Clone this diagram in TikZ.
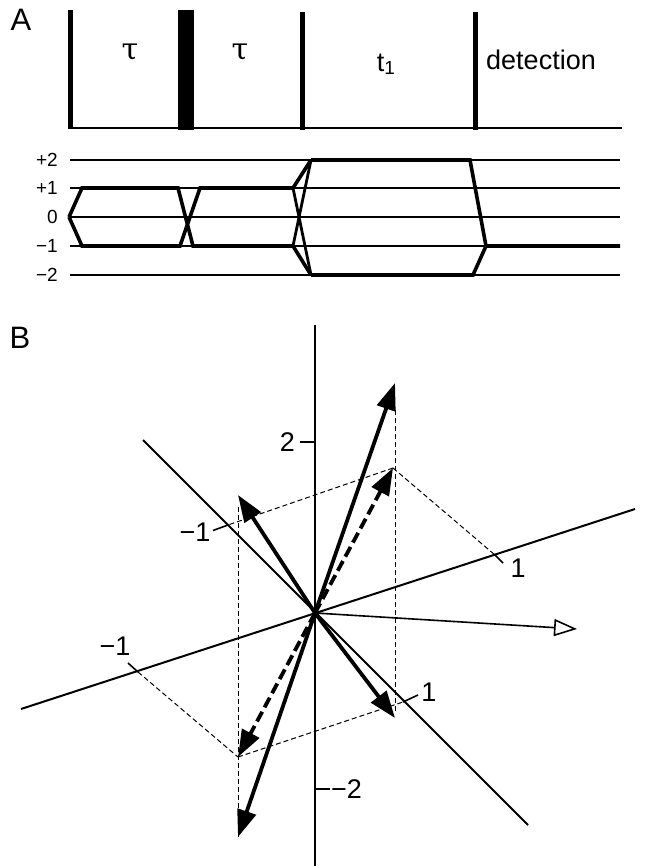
\documentclass[tikz,border=0pt]{standalone}
\usepackage{fontspec}
\setmainfont{Liberation Sans}
\newfontfamily\grk{DejaVu Serif}
\usetikzlibrary{arrows.meta}
\begin{document}
\begin{tikzpicture}[x=1pt,y=-1pt,
  pulse/.style={line width=5pt},
  baseline/.style={line width=2pt},
  level/.style={line width=1.8pt},
  cpath/.style={line width=3.6pt,line join=miter},
  cthin/.style={line width=2.8pt},
  axisline/.style={line width=2pt},
  vec/.style={line width=3.8pt,-{Triangle[length=27pt,width=19pt]}},
  dvec/.style={vec,dash pattern=on 11pt off 5pt},
  ovec/.style={line width=1.6pt,-{Triangle[open,length=23pt,width=17pt,line width=1.6pt]}},
  guide/.style={line width=1pt,dash pattern=on 5pt off 3pt},
  tickmark/.style={line width=1.6pt},
  panel/.style={font=\fontsize{31}{31}\selectfont,inner sep=0pt},
  lvl/.style={font=\fontsize{19}{19}\selectfont,inner sep=0pt,anchor=east},
  num/.style={font=\fontsize{27}{27}\selectfont,inner sep=0pt},
  tau/.style={font=\grk\fontsize{30}{30}\selectfont,inner sep=0pt},
  txt/.style={font=\fontsize{27}{27}\selectfont,inner sep=0pt}
]
\useasboundingbox (0,0) rectangle (645,866);

% ---------- Panel A ----------
\node[panel] (labA) at (21,20) {A};

\draw[baseline] (68,128) -- (622,128);
\draw[pulse] (70,10) -- (70,129);
\fill (178,10) rectangle (194,130);
\draw[pulse] (302,12) -- (302,130);
\draw[pulse] (475,12) -- (475,130);

\node[tau] (tau1) at (130,52) {τ};
\node[tau] (tau2) at (240,52) {τ};
\node[txt,anchor=base] (t1) at (386,72) {t\raisebox{-3pt}{\fontsize{19}{19}\selectfont 1}};
\node[txt] (det) at (541,60) {detection};

% coherence levels
\foreach \yy/\lab [count=\i] in {160/+2,188/+1,217/0,246/{−1},275/{−2}}{
  \draw[level] (70,\yy) -- (620,\yy);
  \node[lvl] (lev\i) at (58,\yy) {\lab};
}

% coherence pathways
\draw[cpath] (69,217) -- (82,188) -- (178,188) -- (193,246) -- (293,246);
\draw[cpath] (69,217) -- (82,246) -- (180,246) -- (200,188) -- (293,188);
\draw[cpath] (293,188) -- (311,160);
\draw[cpath] (293,246) -- (311,275);
\draw[cthin] (293,188) -- (311,275);
\draw[cthin] (293,246) -- (311,160);
\draw[cpath] (311,160) -- (470,160) -- (486,246) -- (620,246);
\draw[cpath] (311,275) -- (473,275) -- (486,246);

% ---------- Panel B ----------
\node[panel] (labB) at (20,338) {B};

\coordinate (O) at (315,613);
\coordinate (vtop) at (315,325);
\coordinate (vbot) at (315,866);
\coordinate (La) at (21,709);
\coordinate (Lb) at (635,509);
\coordinate (Ma) at (143,440);
\coordinate (Mb) at (528,825);

\draw[axisline] (vtop) -- (vbot);
\draw[axisline] (La) -- (Lb);
\draw[axisline] (Ma) -- (Mb);

% vertical ticks
\coordinate (t2a) at (300,442);
\coordinate (t2b) at (315,442);
\draw[tickmark] (t2a) -- (t2b);
\node[num,anchor=east] (n2) at (295,442) {2};
\coordinate (tm2a) at (315,789);
\coordinate (tm2b) at (330,789);
\draw[tickmark] (tm2a) -- (tm2b);
\node[num,anchor=west] (nm2) at (331,789) {−2};

% parallelogram corners and axis points
\coordinate (P1) at (393,468);
\coordinate (P3) at (238,757);
\coordinate (Qa) at (228,525);
\coordinate (Qb) at (495,555);
\coordinate (Qc) at (138,672);
\coordinate (Qd) at (403,702);

\draw[guide] (P1) -- (Qa);
\draw[guide] (P1) -- (Qb);
\draw[guide] (Qc) -- (P3);
\draw[guide] (P3) -- (Qd);
\coordinate (ga1) at (238,507);
\coordinate (ga2) at (238,837);
\coordinate (gb1) at (395,410);
\coordinate (gb2) at (395,712);
\draw[guide] (ga1) -- (ga2);
\draw[guide] (gb1) -- (gb2);

\coordinate (ka) at (213,530.5);
\coordinate (kb) at (503,563);
\coordinate (kc) at (128,663);
\coordinate (kd) at (418,695);
\draw[tickmark] (Qa) -- (ka);
\draw[tickmark] (Qb) -- (kb);
\draw[tickmark] (Qc) -- (kc);
\draw[tickmark] (Qd) -- (kd);

\node[num] (na) at (195,532) {−1};
\node[num] (nb) at (518,568) {1};
\node[num] (nc) at (115,646) {−1};
\node[num] (nd) at (429,692) {1};

% vectors
\coordinate (Vup) at (395,383);
\coordinate (Vul) at (238,495);
\coordinate (Vdn) at (238,837);
\coordinate (Vlr) at (395,718);
\coordinate (Vx) at (577,629);

\draw[vec] (O) -- (Vup);
\draw[vec] (O) -- (Vul);
\draw[vec] (O) -- (Vdn);
\draw[vec] (O) -- (Vlr);
\draw[dvec] (O) -- (P1);
\draw[dvec] (O) -- (P3);
\draw[ovec] (O) -- (Vx);
\end{tikzpicture}
\end{document}
